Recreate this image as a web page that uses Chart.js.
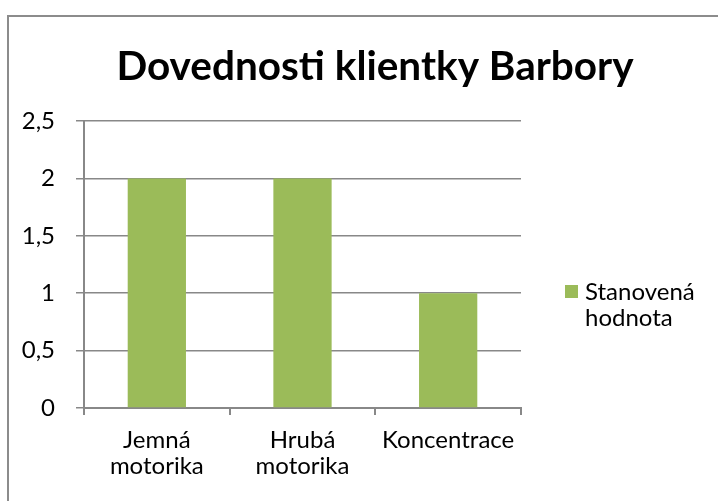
<!DOCTYPE html>
<html>
<head>
<meta charset="utf-8">
<script src="https://cdn.jsdelivr.net/npm/chart.js@4.4.1/dist/chart.umd.min.js"></script>
<style>
    body { margin: 0; background: #ffffff; }
    #obal { position: relative; width: 718px; height: 501px; overflow: hidden; }
    #ramecek { position: absolute; left: 7px; top: 15px; width: 800px; height: 600px;
        border-left: 2px solid #8c8c8c; border-top: 2px solid #8c8c8c; }
    canvas { position: absolute; left: 0; top: 0; }
</style>
</head>
<body>
<div id="obal">
    <div id="ramecek"></div>
    <canvas id="grafDovednosti" width="718" height="501"></canvas>
</div>
<script>
// data grafu
var kategorie = [['Jemná', 'motorika'], ['Hrubá', 'motorika'], 'Koncentrace'];
var hodnoty = [2, 2, 1];
var nazevRady = 'Stanovená hodnota';
var nadpis = 'Dovednosti klientky Barbory';
var osaMin = 0;
var osaMax = 2.5;
var osaKrok = 0.5;

var pismo = 'Lato, "Open Sans", sans-serif';
var barvaSloupcu = '#9BBB59';
var barvaMrizky = '#888888';

// legenda vlastni, aby se text zalomil na dva radky
var legendaPlugin = {
    id: 'legendaVpravo',
    afterDraw: function (chart) {
        var ctx = chart.ctx;
        var ds = chart.data.datasets[0];
        var radky = ds.label.split(' ');
        var x = chart.chartArea.right + 44;
        var y = 285;
        ctx.save();
        ctx.fillStyle = ds.backgroundColor;
        ctx.fillRect(x, y, 13, 13);
        ctx.fillStyle = '#000000';
        ctx.font = '24px ' + pismo;
        ctx.textBaseline = 'middle';
        ctx.textAlign = 'left';
        for (var i = 0; i < radky.length; i++) {
            ctx.fillText(radky[i], x + 20, y + 7 + i * 26);
        }
        ctx.restore();
    }
};

var ctx = document.getElementById('grafDovednosti').getContext('2d');

new Chart(ctx, {
    type: 'bar',
    data: {
        labels: kategorie,
        datasets: [{
            label: nazevRady,
            data: hodnoty,
            backgroundColor: barvaSloupcu,
            borderWidth: 0,
            categoryPercentage: 0.8,
            barPercentage: 0.5
        }]
    },
    options: {
        responsive: false,
        animation: false,
        layout: {
            // zaporny okraj vpravo posune nadpis trochu doprava jako v originale
            padding: { left: 0, right: -32, top: 0, bottom: 0 }
        },
        plugins: {
            legend: { display: false },
            tooltip: { enabled: false },
            title: {
                display: true,
                text: nadpis,
                color: '#000000',
                font: { family: pismo, size: 40.5, weight: 'bold', lineHeight: 1.2 },
                padding: { top: 43, bottom: 29.4 }
            }
        },
        scales: {
            y: {
                min: osaMin,
                max: osaMax,
                ticks: {
                    stepSize: osaKrok,
                    color: '#000000',
                    padding: 21,
                    font: { family: pismo, size: 24 },
                    callback: function (v) {
                        return String(v).replace('.', ',');
                    }
                },
                grid: {
                    color: barvaMrizky,
                    lineWidth: 1.5,
                    tickLength: 8
                },
                border: { color: barvaMrizky, width: 2 },
                afterFit: function (scale) { scale.width = 84; }
            },
            // prazdne misto vpravo pro legendu
            mistoLegenda: {
                position: 'right',
                display: true,
                ticks: { display: false },
                grid: { display: false },
                border: { display: false },
                afterFit: function (scale) { scale.width = 229; }
            },
            x: {
                ticks: {
                    color: '#000000',
                    padding: 13,
                    maxRotation: 0,
                    font: { family: pismo, size: 24, lineHeight: 1.05 }
                },
                grid: {
                    offset: true,
                    drawOnChartArea: false,
                    color: barvaMrizky,
                    lineWidth: 2,
                    tickLength: 7
                },
                border: { color: barvaMrizky, width: 2 },
                afterFit: function (scale) { scale.height = 93; }
            }
        }
    },
    plugins: [legendaPlugin]
});
</script>
</body>
</html>
